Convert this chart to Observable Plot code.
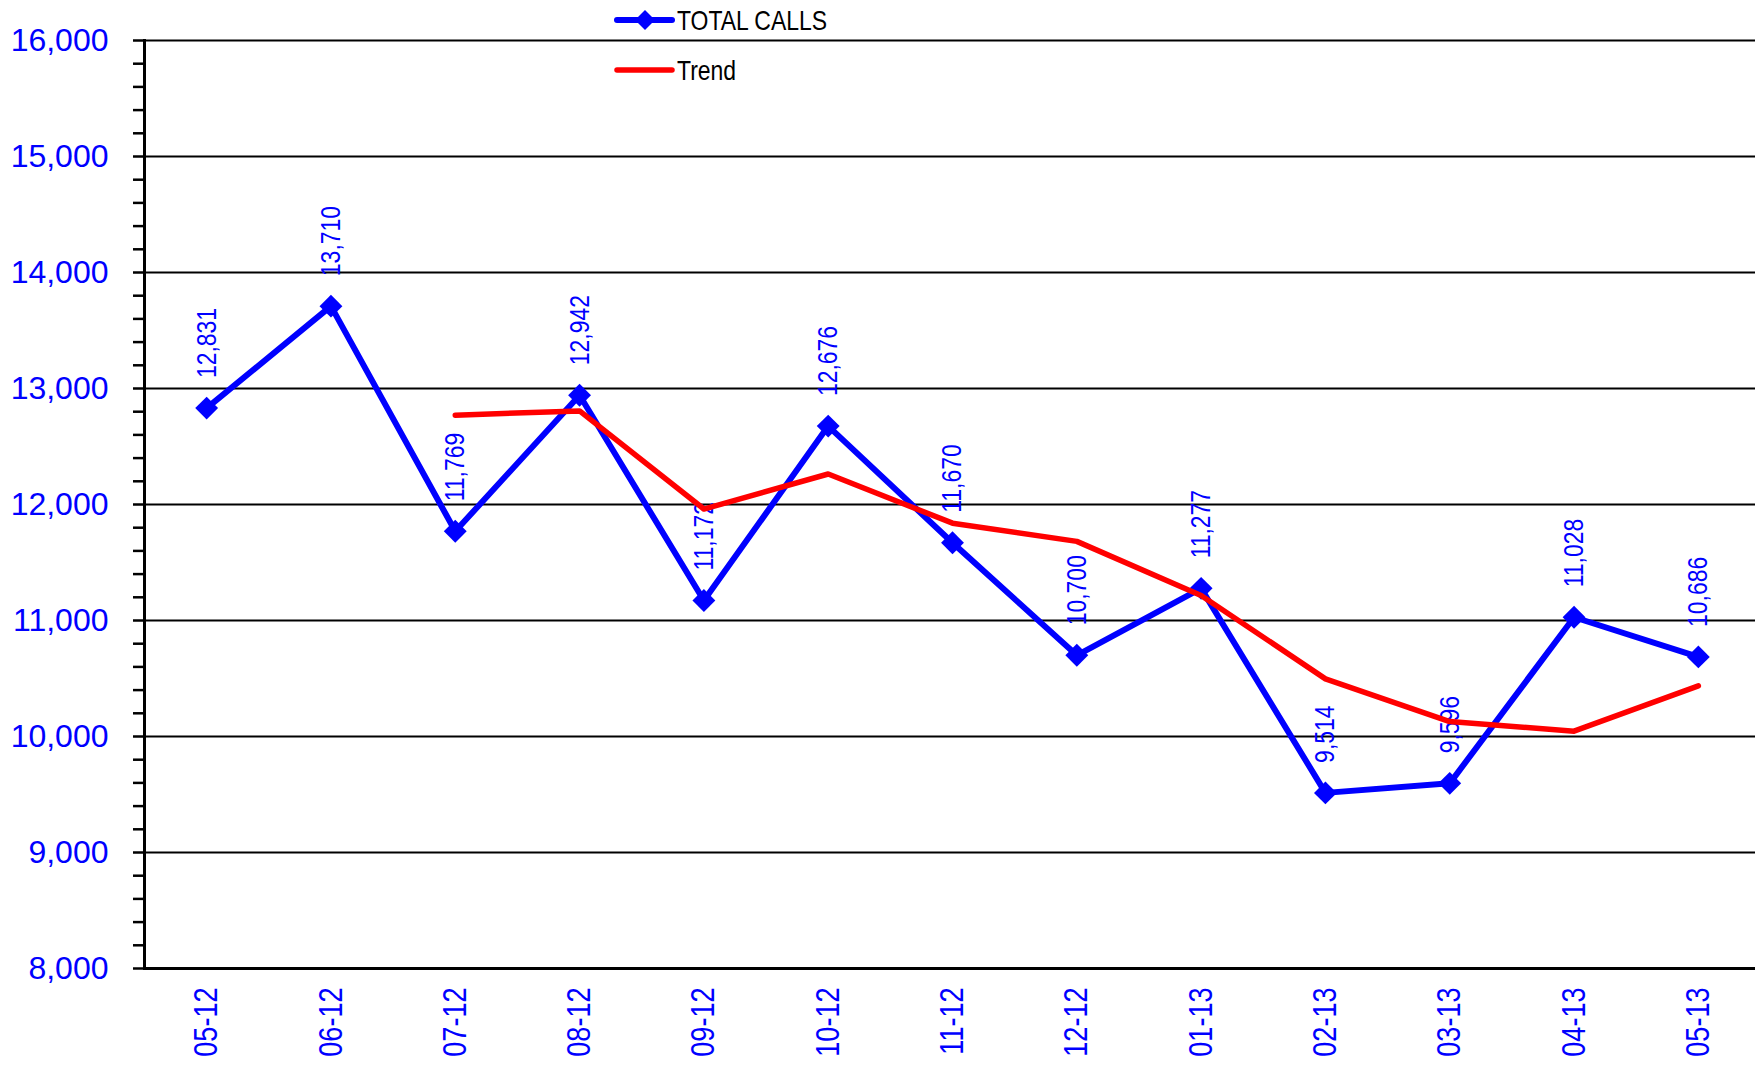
<!DOCTYPE html>
<html>
<head>
<meta charset="utf-8">
<script src="https://cdn.jsdelivr.net/npm/d3@7"></script>
<script src="https://cdn.jsdelivr.net/npm/@observablehq/plot@0.6"></script>
<style>
  html, body { margin: 0; padding: 0; background: #fff; }
  #wrap { position: relative; width: 1755px; height: 1068px; overflow: hidden; font-family: "Liberation Sans", Arial, sans-serif; }
  #legend { position: absolute; left: 0; top: 0; }
</style>
</head>
<body>
<div id="wrap"></div>
<script>
const months = ["05-12","06-12","07-12","08-12","09-12","10-12","11-12","12-12","01-13","02-13","03-13","04-13","05-13"];
const totalCalls = [12831, 13710, 11769, 12942, 11172, 12676, 11670, 10700, 11277, 9514, 9596, 11028, 10686];
const trendMonths = ["07-12","08-12","09-12","10-12","11-12","12-12","01-13","02-13","03-13","04-13","05-13"];
const trendValues = [12770, 12807, 11961, 12263, 11839, 11682, 11216, 10497, 10129, 10046, 10437];
const yTicks = [8000, 9000, 10000, 11000, 12000, 13000, 14000, 15000, 16000];
const yMinorTicks = d3.range(8000, 16001, 200);
const seriesNames = ["TOTAL CALLS", "Trend"];

const calls = months.map((m, i) => ({month: m, value: totalCalls[i]}));
const trend = trendMonths.map((m, i) => ({month: m, value: trendValues[i]}));

const chart = Plot.plot({
  width: 1755,
  height: 1068,
  marginLeft: 144,
  marginRight: -5,
  marginTop: 40,
  marginBottom: 100,
  style: {fontFamily: "Liberation Sans, Arial, sans-serif", background: "white"},
  x: {type: "point", domain: months, padding: 0.5, round: false, label: null},
  y: {domain: [8000, 16000], label: null},
  marks: [
    Plot.gridY(yTicks, {stroke: "black", strokeOpacity: 1, strokeWidth: 2}),
    Plot.axisY(yMinorTicks, {tickSize: 11, tickFormat: () => "", stroke: "black", strokeWidth: 2.5, label: null}),
    Plot.axisY(yTicks, {tickSize: 0, tickPadding: 36, tickFormat: d3.format(","), fontSize: 32, color: "#0000ff", label: null}),
    Plot.axisX({tickRotate: -90, tickSize: 0, tickPadding: 19, fontSize: 33, color: "#0000ff", label: null, className: "narrowx"}),
    Plot.ruleY([8000], {stroke: "black", strokeWidth: 3}),
    Plot.frame({anchor: "left", stroke: "black", strokeWidth: 3}),
    Plot.text(calls, {x: "month", y: "value", text: d => d3.format(",")(d.value), rotate: -90, textAnchor: "start", lineAnchor: "middle", dy: -30, fontSize: 28, fill: "#0000ff", className: "narrowlab"}),
    Plot.line(calls, {x: "month", y: "value", stroke: "#0000ff", strokeWidth: 6}),
    Plot.dot(calls, {x: "month", y: "value", symbol: "diamond2", r: 10.3, fill: "#0000ff", stroke: "none"}),
    Plot.line(trend, {x: "month", y: "value", stroke: "#ff0000", strokeWidth: 5.5})
  ]
});

// condense rotated text along its reading direction (narrow face look)
d3.select(chart).selectAll("g.narrowlab text, g.narrowx text").each(function() {
  const t = this.getAttribute("transform") || "";
  this.setAttribute("transform", t + " scale(0.82,1)");
});

const wrap = document.getElementById("wrap");
wrap.appendChild(chart);

// legend
const legend = document.createElementNS("http://www.w3.org/2000/svg", "svg");
legend.setAttribute("id", "legend");
legend.setAttribute("width", 900);
legend.setAttribute("height", 100);
legend.innerHTML = `
  <line x1="617" y1="20" x2="672" y2="20" stroke="#0000ff" stroke-width="6" stroke-linecap="round"/>
  <path d="M645,10 L655,20 L645,30 L635,20 Z" fill="#0000ff"/>
  <text transform="translate(677,30) scale(0.82,1)" font-size="28" fill="black">${seriesNames[0]}</text>
  <line x1="617" y1="70" x2="672" y2="70" stroke="#ff0000" stroke-width="5.5" stroke-linecap="round"/>
  <text transform="translate(677,80) scale(0.82,1)" font-size="28" fill="black">${seriesNames[1]}</text>
`;
wrap.appendChild(legend);
</script>
</body>
</html>
